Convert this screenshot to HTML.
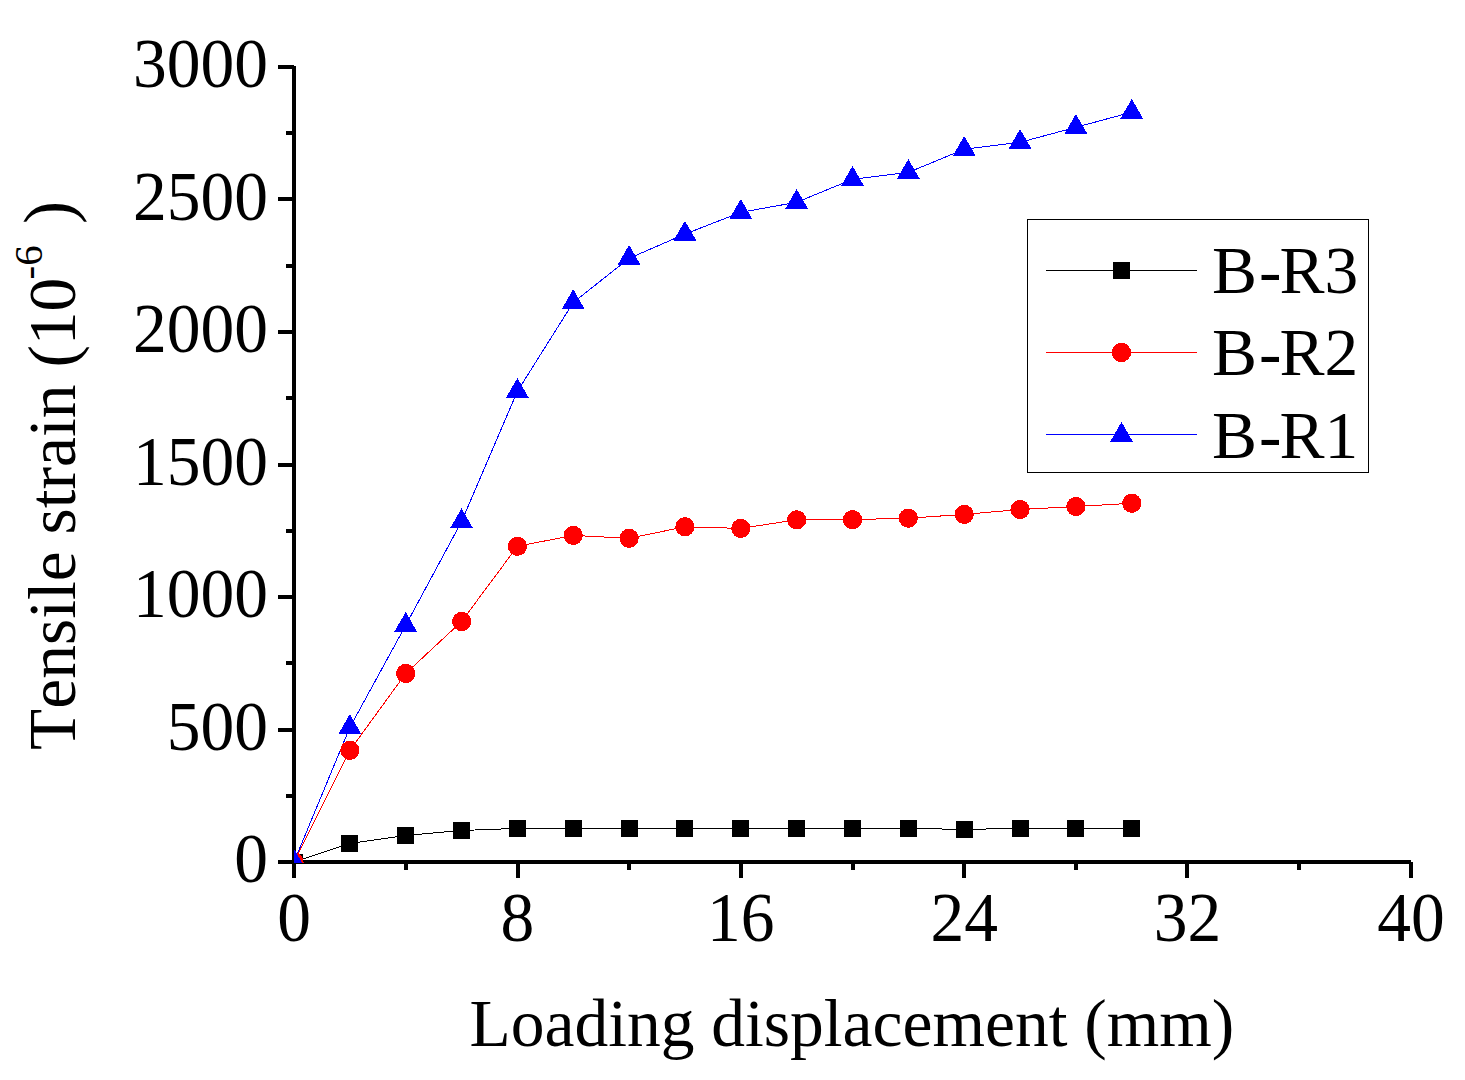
<!DOCTYPE html>
<html><head><meta charset="utf-8"><style>
html,body{margin:0;padding:0;background:#fff;}
body{width:1465px;height:1080px;overflow:hidden;}
svg{display:block;}
text{font-family:"Liberation Serif",serif;fill:#000;font-kerning:none;}
</style></head><body>
<svg width="1465" height="1080" viewBox="0 0 1465 1080">
<rect width="1465" height="1080" fill="#fff"/>
<defs><clipPath id="pc"><rect x="294" y="0" width="1200" height="863"/></clipPath></defs>

<rect x="292" y="66" width="4" height="798" fill="#000"/>
<rect x="292" y="860" width="1119" height="4" fill="#000"/>
<rect x="292" y="862" width="4" height="16" fill="#000"/>
<rect x="404" y="862" width="4" height="8" fill="#000"/>
<rect x="516" y="862" width="4" height="16" fill="#000"/>
<rect x="627" y="862" width="4" height="8" fill="#000"/>
<rect x="739" y="862" width="4" height="16" fill="#000"/>
<rect x="851" y="862" width="4" height="8" fill="#000"/>
<rect x="962" y="862" width="4" height="16" fill="#000"/>
<rect x="1074" y="862" width="4" height="8" fill="#000"/>
<rect x="1185" y="862" width="4" height="16" fill="#000"/>
<rect x="1297" y="862" width="4" height="8" fill="#000"/>
<rect x="1409" y="862" width="4" height="16" fill="#000"/>
<rect x="278" y="860" width="16" height="4" fill="#000"/>
<rect x="286" y="794" width="8" height="4" fill="#000"/>
<rect x="278" y="728" width="16" height="4" fill="#000"/>
<rect x="286" y="661" width="8" height="4" fill="#000"/>
<rect x="278" y="595" width="16" height="4" fill="#000"/>
<rect x="286" y="529" width="8" height="4" fill="#000"/>
<rect x="278" y="463" width="16" height="4" fill="#000"/>
<rect x="286" y="396" width="8" height="4" fill="#000"/>
<rect x="278" y="330" width="16" height="4" fill="#000"/>
<rect x="286" y="264" width="8" height="4" fill="#000"/>
<rect x="278" y="197" width="16" height="4" fill="#000"/>
<rect x="286" y="131" width="8" height="4" fill="#000"/>
<rect x="278" y="65" width="16" height="4" fill="#000"/>
<text transform="translate(294.00,941) scale(1,1.03)" font-size="67.5" text-anchor="middle">0</text>
<text transform="translate(517.40,941) scale(1,1.03)" font-size="67.5" text-anchor="middle">8</text>
<text transform="translate(740.80,941) scale(1,1.03)" font-size="67.5" text-anchor="middle">16</text>
<text transform="translate(964.20,941) scale(1,1.03)" font-size="67.5" text-anchor="middle">24</text>
<text transform="translate(1187.60,941) scale(1,1.03)" font-size="67.5" text-anchor="middle">32</text>
<text transform="translate(1411.00,941) scale(1,1.03)" font-size="67.5" text-anchor="middle">40</text>
<text transform="translate(268,882.45) scale(1,1.03)" font-size="67.5" text-anchor="end">0</text>
<text transform="translate(268,749.95) scale(1,1.03)" font-size="67.5" text-anchor="end">500</text>
<text transform="translate(268,617.45) scale(1,1.03)" font-size="67.5" text-anchor="end">1000</text>
<text transform="translate(268,484.95) scale(1,1.03)" font-size="67.5" text-anchor="end">1500</text>
<text transform="translate(268,352.45) scale(1,1.03)" font-size="67.5" text-anchor="end">2000</text>
<text transform="translate(268,219.95) scale(1,1.03)" font-size="67.5" text-anchor="end">2500</text>
<text transform="translate(268,87.45) scale(1,1.03)" font-size="67.5" text-anchor="end">3000</text>
<text x="469.5" y="1045.7" font-size="67.5">Loading displacement (mm)</text>
<text transform="translate(75,750) rotate(-90)" font-size="67.5">Tensile strain (10<tspan x="470.6" dy="-33.5" font-size="41">-6</tspan><tspan x="526" dy="30.7" font-size="69.5">)</tspan></text>
<g clip-path="url(#pc)" shape-rendering="crispEdges">
<polyline points="294.00,862.00 349.85,843.50 405.70,835.40 461.55,830.50 517.40,828.40 573.25,828.40 629.10,828.40 684.95,828.40 740.80,828.40 796.65,828.40 852.50,828.40 908.35,828.40 964.20,829.40 1020.05,828.40 1075.90,828.40 1131.75,828.40" fill="none" stroke="#000" stroke-width="1"/>
<polyline points="294.00,862.00 349.85,750.40 405.70,673.50 461.55,621.50 517.40,546.30 573.25,535.40 629.10,538.30 684.95,526.80 740.80,528.40 796.65,519.80 852.50,519.60 908.35,518.20 964.20,514.40 1020.05,509.50 1075.90,506.50 1131.75,503.30" fill="none" stroke="#f00" stroke-width="1"/>
<polyline points="294.00,862.00 349.85,727.40 405.70,625.30 461.55,521.60 517.40,391.30 573.25,302.50 629.10,258.30 684.95,234.10 740.80,212.30 796.65,202.30 852.50,179.30 908.35,172.40 964.20,149.30 1020.05,142.30 1075.90,127.30 1131.75,112.20" fill="none" stroke="#00f" stroke-width="1"/>
<rect x="285.50" y="853.50" width="17" height="17" fill="#000"/>
<rect x="341.35" y="835.00" width="17" height="17" fill="#000"/>
<rect x="397.20" y="826.90" width="17" height="17" fill="#000"/>
<rect x="453.05" y="822.00" width="17" height="17" fill="#000"/>
<rect x="508.90" y="819.90" width="17" height="17" fill="#000"/>
<rect x="564.75" y="819.90" width="17" height="17" fill="#000"/>
<rect x="620.60" y="819.90" width="17" height="17" fill="#000"/>
<rect x="676.45" y="819.90" width="17" height="17" fill="#000"/>
<rect x="732.30" y="819.90" width="17" height="17" fill="#000"/>
<rect x="788.15" y="819.90" width="17" height="17" fill="#000"/>
<rect x="844.00" y="819.90" width="17" height="17" fill="#000"/>
<rect x="899.85" y="819.90" width="17" height="17" fill="#000"/>
<rect x="955.70" y="820.90" width="17" height="17" fill="#000"/>
<rect x="1011.55" y="819.90" width="17" height="17" fill="#000"/>
<rect x="1067.40" y="819.90" width="17" height="17" fill="#000"/>
<rect x="1123.25" y="819.90" width="17" height="17" fill="#000"/>
<circle cx="294.00" cy="862.00" r="9.6" fill="#f00"/>
<circle cx="349.85" cy="750.40" r="9.6" fill="#f00"/>
<circle cx="405.70" cy="673.50" r="9.6" fill="#f00"/>
<circle cx="461.55" cy="621.50" r="9.6" fill="#f00"/>
<circle cx="517.40" cy="546.30" r="9.6" fill="#f00"/>
<circle cx="573.25" cy="535.40" r="9.6" fill="#f00"/>
<circle cx="629.10" cy="538.30" r="9.6" fill="#f00"/>
<circle cx="684.95" cy="526.80" r="9.6" fill="#f00"/>
<circle cx="740.80" cy="528.40" r="9.6" fill="#f00"/>
<circle cx="796.65" cy="519.80" r="9.6" fill="#f00"/>
<circle cx="852.50" cy="519.60" r="9.6" fill="#f00"/>
<circle cx="908.35" cy="518.20" r="9.6" fill="#f00"/>
<circle cx="964.20" cy="514.40" r="9.6" fill="#f00"/>
<circle cx="1020.05" cy="509.50" r="9.6" fill="#f00"/>
<circle cx="1075.90" cy="506.50" r="9.6" fill="#f00"/>
<circle cx="1131.75" cy="503.30" r="9.6" fill="#f00"/>
<polygon points="294.00,848.70 305.50,868.65 282.50,868.65" fill="#00f"/>
<polygon points="349.85,714.10 361.35,734.05 338.35,734.05" fill="#00f"/>
<polygon points="405.70,612.00 417.20,631.95 394.20,631.95" fill="#00f"/>
<polygon points="461.55,508.30 473.05,528.25 450.05,528.25" fill="#00f"/>
<polygon points="517.40,378.00 528.90,397.95 505.90,397.95" fill="#00f"/>
<polygon points="573.25,289.20 584.75,309.15 561.75,309.15" fill="#00f"/>
<polygon points="629.10,245.00 640.60,264.95 617.60,264.95" fill="#00f"/>
<polygon points="684.95,220.80 696.45,240.75 673.45,240.75" fill="#00f"/>
<polygon points="740.80,199.00 752.30,218.95 729.30,218.95" fill="#00f"/>
<polygon points="796.65,189.00 808.15,208.95 785.15,208.95" fill="#00f"/>
<polygon points="852.50,166.00 864.00,185.95 841.00,185.95" fill="#00f"/>
<polygon points="908.35,159.10 919.85,179.05 896.85,179.05" fill="#00f"/>
<polygon points="964.20,136.00 975.70,155.95 952.70,155.95" fill="#00f"/>
<polygon points="1020.05,129.00 1031.55,148.95 1008.55,148.95" fill="#00f"/>
<polygon points="1075.90,114.00 1087.40,133.95 1064.40,133.95" fill="#00f"/>
<polygon points="1131.75,98.90 1143.25,118.85 1120.25,118.85" fill="#00f"/>
</g>
<rect x="1027.5" y="219.5" width="341" height="253" fill="#fff" stroke="#000" stroke-width="1"/>
<g shape-rendering="crispEdges">
<line x1="1046" y1="270.5" x2="1197" y2="270.5" stroke="#000" stroke-width="1"/>
<line x1="1046" y1="352.5" x2="1197" y2="352.5" stroke="#f00" stroke-width="1"/>
<line x1="1046" y1="434.5" x2="1197" y2="434.5" stroke="#00f" stroke-width="1"/>
<rect x="1113.00" y="262.00" width="17" height="17" fill="#000"/>
<circle cx="1121.50" cy="352.50" r="9.6" fill="#f00"/>
<polygon points="1121.50,422.00 1133.00,441.95 1110.00,441.95" fill="#00f"/>
</g>
<text transform="translate(1212,293.2) scale(1,1.009)" font-size="67.5">B<tspan dx="2">-</tspan><tspan dx="-2">R3</tspan></text>
<text transform="translate(1212,375.0) scale(1,1.009)" font-size="67.5">B<tspan dx="2">-</tspan><tspan dx="-2">R2</tspan></text>
<text transform="translate(1212,457.8) scale(1,1.009)" font-size="67.5">B<tspan dx="2">-</tspan><tspan dx="-2">R1</tspan></text>
</svg></body></html>
